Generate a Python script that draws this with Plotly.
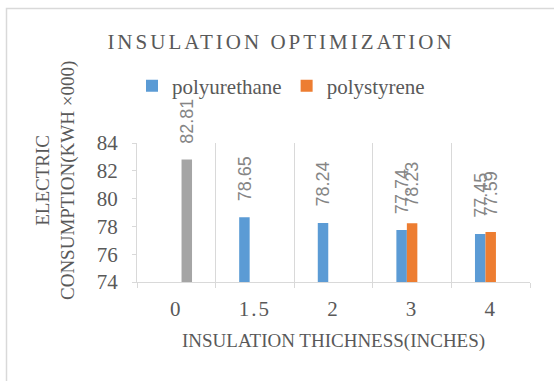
import plotly.graph_objects as go

# Insulation thickness categories (inches) and electric consumption (kWh x000)
thickness = ["0", "1.5", "2", "3", "4"]
thickness_labels = ["0", "1.5", "2", "3", "4"]
polyurethane = [None, 78.65, 78.24, 77.74, 77.45]
polystyrene = [None, None, None, 78.23, 77.59]
uninsulated = [82.81, None, None, None, None]

series = [
    ("polyurethane", polyurethane, "#5B9BD5", True),
    ("polystyrene", polystyrene, "#ED7D31", True),
    ("uninsulated", uninsulated, "#A5A5A5", False),
]

W, H = 554, 381
ML, MR, MT, MB = 137, 24, 143, 99
PW, PH = W - ML - MR, H - MT - MB

SERIF = "Liberation Serif"
TEXT = "#595959"
LINE = "#D9D9D9"
BARGAP = 0.6


def px_x(px):
    return (px - ML) / PW


def px_y(py):
    return (H - MB - py) / PH


fig = go.Figure()
for name, vals, color, legend in series:
    fig.add_trace(go.Bar(
        x=thickness, y=vals, name=name, marker_color=color,
        showlegend=legend, marker_line_width=0,
    ))

# rotated value labels above each bar
bar_w = (1 - BARGAP) / len(series)
annotations = []
for k, (name, vals, color, legend) in enumerate(series):
    off = (k - (len(series) - 1) / 2) * bar_w
    for i, v in enumerate(vals):
        if v is None:
            continue
        annotations.append(dict(
            x=i + off, y=v, xref="x", yref="y", text=f"{v:.2f}",
            showarrow=False, textangle=-90, xanchor="center", yanchor="bottom",
            yshift=14, font=dict(family="Liberation Sans", size=18, color="#858585"),
        ))

# axis titles
annotations.append(dict(
    x=px_x(55), y=px_y(181), xref="paper", yref="paper",
    text="ELECTRIC<br>CONSUMPTION(KWH ×000)", showarrow=False, textangle=-90,
    xanchor="center", yanchor="middle", font=dict(family=SERIF, size=19, color=TEXT),
))
annotations.append(dict(
    x=0.5, y=px_y(341), xref="paper", yref="paper",
    text="INSULATION THICHNESS(INCHES)", showarrow=False,
    xanchor="center", yanchor="middle", font=dict(family=SERIF, size=19, color=TEXT),
))

fig.update_layout(
    width=W, height=H,
    margin=dict(l=ML, r=MR, t=MT, b=MB),
    paper_bgcolor="white", plot_bgcolor="white",
    barmode="group", bargap=BARGAP, bargroupgap=0,
    title=dict(
        text='<span style="letter-spacing:3px">INSULATION OPTIMIZATION</span>',
        x=281 / W, xanchor="center", y=1 - 42 / H, yanchor="middle",
        xref="container", yref="container",
        font=dict(family=SERIF, size=21, color=TEXT),
    ),
    legend=dict(
        orientation="h", x=px_x(132), xanchor="left", y=px_y(86), yanchor="middle",
        font=dict(family=SERIF, size=21, color=TEXT), bgcolor="rgba(0,0,0,0)",
        traceorder="normal",
    ),
    xaxis=dict(
        type="category", categoryorder="array", categoryarray=thickness,
        tickvals=thickness,
        ticktext=[f'<span style="letter-spacing:2px">{t}</span>' for t in thickness_labels],
        showline=True, linecolor=LINE, linewidth=1,
        ticks="outside", tickson="boundaries", ticklen=5, tickcolor=LINE,
        showgrid=True, gridcolor=LINE, gridwidth=1,
        tickfont=dict(family=SERIF, size=21, color=TEXT),
        ticklabelstandoff=8,
    ),
    yaxis=dict(
        range=[74, 84], dtick=2, tick0=74,
        showline=True, linecolor=LINE, linewidth=1,
        ticks="outside", ticklen=4, tickcolor=LINE,
        showgrid=False, zeroline=False,
        tickfont=dict(family=SERIF, size=21, color=TEXT),
        ticklabelstandoff=10,
    ),
    annotations=annotations,
    shapes=[dict(
        type="rect", xref="paper", yref="paper",
        x0=px_x(6.5), x1=px_x(W + 10), y0=px_y(H + 10), y1=px_y(8.5),
        line=dict(color=LINE, width=1.5), fillcolor="rgba(0,0,0,0)", layer="below",
    )],
)

fig.write_html("out.html")
